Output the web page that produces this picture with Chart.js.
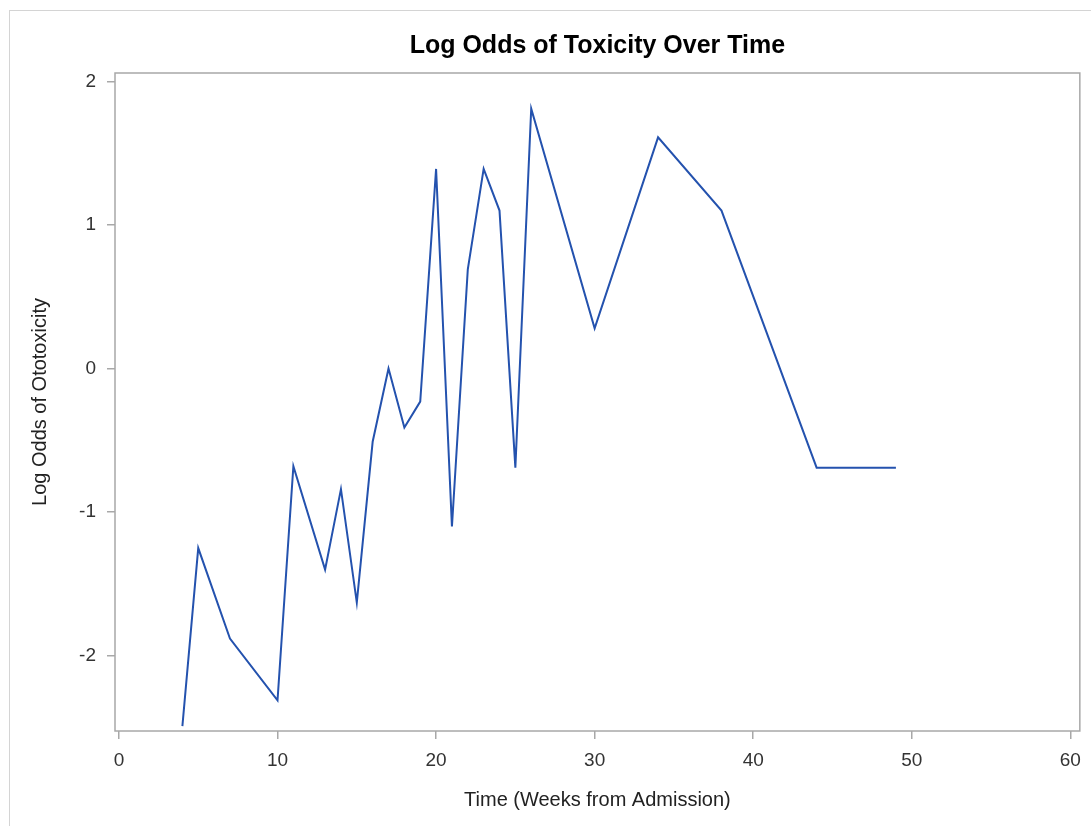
<!DOCTYPE html>
<html>
<head>
<meta charset="utf-8">
<script src="https://cdn.jsdelivr.net/npm/chart.js@4"></script>
<style>
  body { margin: 0; background: #fff; }
  .frame { position: absolute; left: 9px; top: 10px; width: 1100px; height: 830px; border: 1px solid #d4d4d4; }
  .wrap { position: absolute; left: 0; top: 0; width: 1091px; height: 826px; }
</style>
</head>
<body>
<div class="frame"></div>
<div class="wrap"><canvas id="myChart" width="1091" height="826"></canvas></div>
<script>
// weeks from admission and the log odds
const weeks = [4, 5, 7, 10, 11, 13, 14, 15, 16, 17, 18, 19, 20, 21, 22, 23, 24, 25, 26, 30, 34, 38, 44, 49];
const logOdds = [-2.49, -1.25, -1.88, -2.31, -0.68, -1.40, -0.84, -1.63, -0.51, 0, -0.41, -0.23,
  1.39, -1.10, 0.69, 1.39, 1.10, -0.69, 1.81, 0.28, 1.61, 1.10, -0.69, -0.69];

const xTicks = [0, 10, 20, 30, 40, 50, 60];
const yTicks = [-2, -1, 0, 1, 2];

const ctx = document.getElementById("myChart").getContext("2d");

const points = weeks.map((w, i) => ({ x: w, y: logOdds[i] }));

// draws the box round the plot area
const boxPlugin = {
  id: "box",
  afterDraw: (chart) => {
    const a = chart.chartArea;
    const c = chart.ctx;
    c.save();
    c.strokeStyle = "#a8a8a8";
    c.lineWidth = 1.5;
    c.strokeRect(a.left, a.top, a.right - a.left, a.bottom - a.top);
    c.restore();
  },
};

new Chart(ctx, {
  type: "scatter",
  data: {
    datasets: [
      {
        data: points,
        showLine: true,
        borderColor: "#2452ae",
        borderWidth: 2,
        pointRadius: 0,
        tension: 0,
      },
    ],
  },
  options: {
    responsive: false,
    animation: false,
    layout: { padding: { left: 0, right: 9, top: 0, bottom: 0 } },
    plugins: {
      legend: { display: false },
      tooltip: { enabled: false },
      title: {
        display: true,
        fullSize: false,
        text: "Log Odds of Toxicity Over Time",
        color: "#000",
        font: { family: "Liberation Sans, Arial", size: 25, weight: "bold" },
        padding: { top: 31, bottom: 12 },
      },
    },
    scales: {
      x: {
        type: "linear",
        min: -0.25,
        max: 60.6,
        afterFit: (scale) => { scale.height = 95; },
        afterBuildTicks: (scale) => { scale.ticks = xTicks.map((v) => ({ value: v })); },
        ticks: {
          stepSize: 10,
          includeBounds: false,
          color: "#333",
          padding: 10,
          maxRotation: 0,
          font: { family: "Liberation Sans, Arial", size: 19 },
        },
        grid: { drawOnChartArea: false, drawTicks: true, tickLength: 8, color: "#a8a8a8", lineWidth: 1.5 },
        border: { display: false },
        title: {
          display: true,
          text: "Time (Weeks from Admission)",
          color: "#222",
          font: { family: "Liberation Sans, Arial", size: 20 },
          padding: { top: 14, bottom: 14 },
        },
      },
      y: {
        type: "linear",
        min: -2.524,
        max: 2.058,
        afterFit: (scale) => { scale.width = 115; },
        afterBuildTicks: (scale) => { scale.ticks = yTicks.map((v) => ({ value: v })); },
        ticks: {
          stepSize: 1,
          includeBounds: false,
          color: "#333",
          padding: 11,
          font: { family: "Liberation Sans, Arial", size: 19 },
        },
        grid: { drawOnChartArea: false, drawTicks: true, tickLength: 8, color: "#a8a8a8", lineWidth: 1.5 },
        border: { display: false },
        title: {
          display: true,
          text: "Log Odds of Ototoxicity",
          color: "#222",
          font: { family: "Liberation Sans, Arial", size: 20 },
          padding: { top: 28, bottom: 28 },
        },
      },
    },
  },
  plugins: [boxPlugin],
});
</script>
</body>
</html>
